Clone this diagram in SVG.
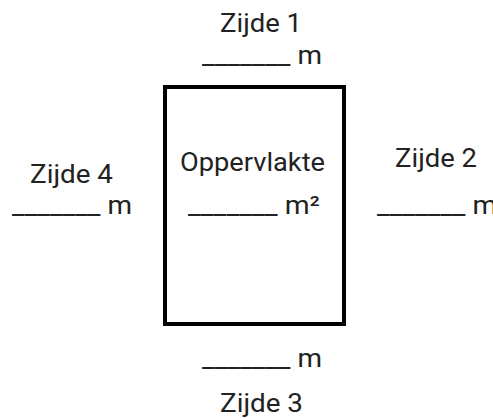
<svg xmlns="http://www.w3.org/2000/svg" width="493" height="419" viewBox="0 0 493 419">
<style>
text{font-family:Roboto,"Liberation Sans",sans-serif;font-size:26px;fill:#222;}
.box{fill:#fff;stroke:#000;stroke-width:4;}
</style>
<rect width="493" height="419" fill="#fff"/>
<g id="area">
<rect class="box" x="165" y="87" width="179" height="237"/>
<text x="180" y="171" textLength="145" lengthAdjust="spacingAndGlyphs">Oppervlakte</text>
<text x="188" y="214" textLength="132" lengthAdjust="spacingAndGlyphs">_______ m²</text>
</g>
<g id="side1">
<text x="220" y="32" textLength="82" lengthAdjust="spacingAndGlyphs">Zijde 1</text>
<text x="202" y="64" textLength="120" lengthAdjust="spacingAndGlyphs">_______ m</text>
</g>
<g id="side2">
<text x="395" y="167" textLength="82" lengthAdjust="spacingAndGlyphs">Zijde 2</text>
<text x="377" y="214" textLength="120" lengthAdjust="spacingAndGlyphs">_______ m</text>
</g>
<g id="side3">
<text x="202" y="367" textLength="120" lengthAdjust="spacingAndGlyphs">_______ m</text>
<text x="220" y="412" textLength="83" lengthAdjust="spacingAndGlyphs">Zijde 3</text>
</g>
<g id="side4">
<text x="30" y="183" textLength="83" lengthAdjust="spacingAndGlyphs">Zijde 4</text>
<text x="12" y="214" textLength="120" lengthAdjust="spacingAndGlyphs">_______ m</text>
</g>
<g id="connectors"></g>
</svg>
